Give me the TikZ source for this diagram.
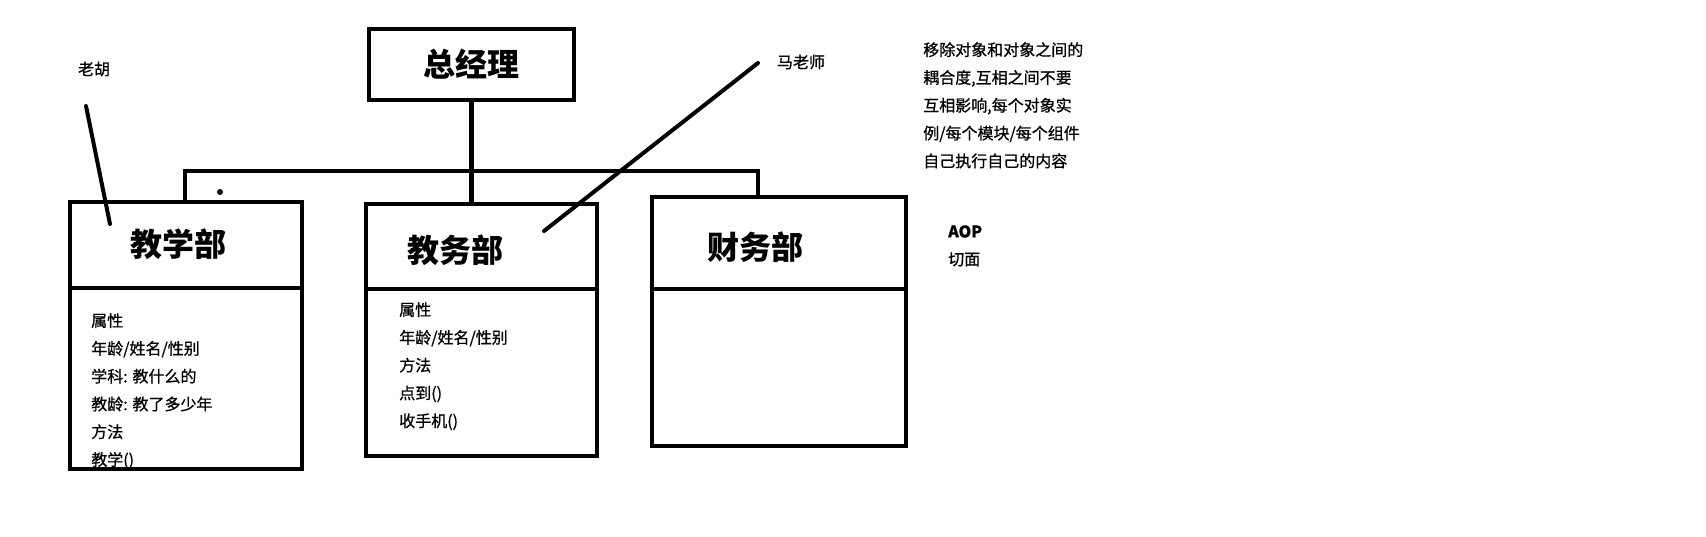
\documentclass[tikz,border=0pt]{standalone}
\usepackage{fontspec}
\setmainfont{Noto Sans CJK SC}
\newfontfamily\notefont[FakeBold=0.8]{Noto Sans CJK SC}
\usepackage{tikz}
\usetikzlibrary{positioning,calc}
\tikzset{
  every picture/.append style={line width=4.5pt},
  every node/.append style={font=\fontsize{16}{27.8}\selectfont\notefont},
}
\tikzset{
  dept/.style={draw, line width=4.5pt, inner sep=0pt, outer sep=0pt, anchor=north west},
  title/.style={font=\fontsize{32}{36}\selectfont\bfseries},
  note/.style={align=left, inner sep=0pt, anchor=north west},
  pointer/.style={line width=4pt, line cap=round}
}
\begin{document}
\begin{tikzpicture}[x=1pt, y=-1pt]
\useasboundingbox (0,0) rectangle (1706,536);

% General manager on top
\node[dept, minimum width=205pt, minimum height=71pt] (gm) at (369,29) {};
\node[title] (gmtitle) at (gm.center) {总经理};

% Three departments - header box and body box each
\node[dept, minimum width=232pt, minimum height=86pt] (jxhead) at (70,202) {};
\node[dept, minimum width=232pt, minimum height=181pt] (jxbody) at (jxhead.south west) {};
\node[title] (jxtitle) at (178,244) {教学部};

\node[dept, minimum width=231pt, minimum height=85pt] (jwhead) at (366,204) {};
\node[dept, minimum width=231pt, minimum height=167pt] (jwbody) at (jwhead.south west) {};
\node[title] (jwtitle) at (455,250) {教务部};

\node[dept, minimum width=254pt, minimum height=92pt] (cwhead) at (652,197) {};
\node[dept, minimum width=254pt, minimum height=157pt] (cwbody) at (cwhead.south west) {};
\node[title] (cwtitle) at (755,247) {财务部};

% Member lists
\node[note] (jxlist) at (89,311) {属性\\年龄/姓名/性别\\学科: 教什么的\\教龄: 教了多少年\\方法\\教学()};
\node[note] (jwlist) at (397,300) {属性\\年龄/姓名/性别\\方法\\点到()\\收手机()};

% Tree connectors
\coordinate (busL) at (185,171);
\coordinate (busR) at (758,171);
\draw (gm.south) -- (gm.south |- jwhead.north);
\draw (busL |- jxhead.north) -- (busL) -- (busR) -- (busR |- cwhead.north);
\fill (220,192) circle (3pt);

% Person labels with pointer strokes
\node (hu) at (94,69) {老胡};
\node (ma) at (801,62) {马老师};
\coordinate (huA) at (86,106);
\coordinate (huB) at (110,224);
\coordinate (maA) at (758,63);
\coordinate (maB) at (544,231);
\draw[pointer] (huA) -- (huB);
\draw[pointer] (maA) -- (maB);

% Side notes
\node[note] (decouple) at (921,40) {移除对象和对象之间的\\耦合度,互相之间不要\\互相影响,每个对象实\\例/每个模块/每个组件\\自己执行自己的内容};
\node[note] (aop) at (946,223) {\bfseries AOP\\切面};

\end{tikzpicture}
\end{document}
